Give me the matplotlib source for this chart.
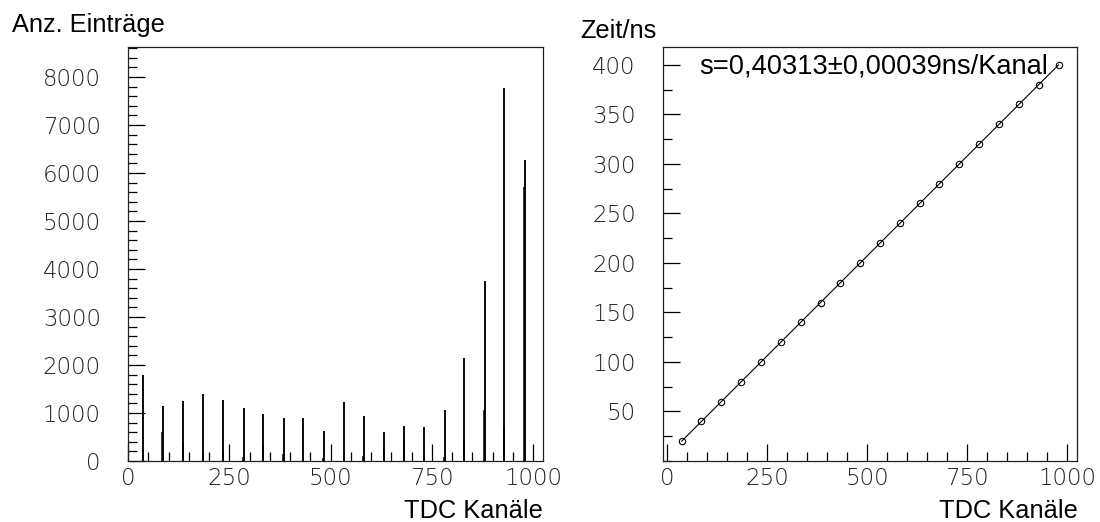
import numpy as np
import matplotlib
matplotlib.use("Agg")
import matplotlib.pyplot as plt
from matplotlib import font_manager
from matplotlib.ticker import MultipleLocator, FixedLocator

# ---------------- data ----------------
# TDC calibration peaks: channel of main bin, counts of main bin and of the neighbouring bin (channel-1)
peak_channels = [37, 86, 136, 185, 235, 285, 334, 384, 433, 483,
                 533, 582, 632, 681, 731, 781, 830, 880, 929, 979]
peak_counts = [1790, 1148, 1240, 1390, 1280, 1108, 979, 898, 905, 626,
               1220, 944, 612, 737, 706, 1066, 2141, 3760, 7763, 6281]
side_counts = [236, 610, 389, 146, 215, 90, 320, 146, 40, 60,
               60, 110, 264, 444, 76, 90, 389, 1062, 667, 5700]

# calibration: delay time (ns) vs peak channel
calib_channels = peak_channels
calib_times = [20, 40, 60, 80, 100, 120, 140, 160, 180, 200,
               220, 240, 260, 280, 300, 320, 340, 360, 380, 400]

fit_text = "s=0,40313\u00b10,00039ns/Kanal"
left_ylabel = "Anz. Einträge"
right_ylabel = "Zeit/ns"
xlabel = "TDC Kanäle"
x_ticks = [0, 250, 500, 750, 1000]
left_yticks = [0, 1000, 2000, 3000, 4000, 5000, 6000, 7000, 8000]
right_yticks = [50, 100, 150, 200, 250, 300, 350, 400]

# ---------------- fonts ----------------
def light_family():
    cands = ["DejaVu Sans", "Lato", "Roboto", "Open Sans", "Inter", "Noto Sans"]
    for c in cands:
        for f in font_manager.fontManager.ttflist:
            if f.name == c and isinstance(f.weight, (int, float)) and f.weight <= 300:
                return c, f.weight
            if f.name.startswith(c) and ("Light" in f.name or "ExtraLight" in f.name):
                return f.name, "normal"
    return "DejaVu Sans", "normal"

tick_family, tick_weight = light_family()
label_font = dict(family=["Liberation Sans", "DejaVu Sans"], size=18.3)

W, H = 1100, 522
fig = plt.figure(figsize=(W / 100, H / 100), dpi=100)

def px_axes(x0, x1, ytop, ybot):
    return fig.add_axes([x0 / W, (H - ybot) / H, (x1 - x0) / W, (ybot - ytop) / H])

axL = px_axes(128, 543, 47, 461)
axR = px_axes(663, 1077, 47, 461)

def style(ax):
    for s in ax.spines.values():
        s.set_linewidth(0.9)
        s.set_color("#202020")
    ax.tick_params(which="both", direction="in", top=False, right=False,
                   color="black", width=0.9)
    ax.tick_params(which="major", length=12.3)
    ax.tick_params(which="minor", length=6.3)
    ax.tick_params(axis="y", which="major", pad=19.5)
    ax.tick_params(axis="x", which="major", pad=4.5)
    for lab in ax.get_xticklabels() + ax.get_yticklabels():
        lab.set_family(tick_family)
        lab.set_weight(tick_weight)
        lab.set_size(16.5)
        lab.set_color("#222222")

# ---------------- left: histogram ----------------
side_channels = [c - 1 for c in peak_channels]
axL.vlines(side_channels, 0, side_counts, color="black", lw=1.1)
axL.vlines(peak_channels, 0, peak_counts, color="black", lw=1.35)
axL.set_xlim(0, 1024)
axL.set_ylim(0, 8625)
axL.xaxis.set_major_locator(FixedLocator(x_ticks))
axL.xaxis.set_minor_locator(MultipleLocator(50))
axL.yaxis.set_major_locator(FixedLocator(left_yticks))
axL.yaxis.set_minor_locator(MultipleLocator(200))
axL.set_xticklabels([str(t) for t in x_ticks])
axL.set_yticklabels([str(t) for t in left_yticks])
style(axL)

# ---------------- right: calibration ----------------
slope, intercept = np.polyfit(calib_channels, calib_times, 1)
xf = np.array([min(calib_channels), max(calib_channels)])
axR.plot(xf, slope * xf + intercept, color="black", lw=0.8)
axR.plot(calib_channels, calib_times, linestyle="none", marker="o",
         markersize=4.6, markerfacecolor="none", markeredgecolor="black",
         markeredgewidth=0.8)
axR.set_xlim(-10, 1025)
axR.set_ylim(0, 418)
axR.xaxis.set_major_locator(FixedLocator(x_ticks))
axR.xaxis.set_minor_locator(MultipleLocator(50))
axR.yaxis.set_major_locator(FixedLocator(right_yticks))
axR.yaxis.set_minor_locator(MultipleLocator(25))
axR.set_xticklabels([str(t) for t in x_ticks])
axR.set_yticklabels([str(t) for t in right_yticks])
style(axR)
axR.text(0.087, 0.937, fit_text, transform=axR.transAxes, ha="left",
         va="baseline", fontsize=19.6, family=["Liberation Sans", "DejaVu Sans"],
         color="black")

# ---------------- axis titles ----------------
fig.text(12 / W, 1 - 32 / H, left_ylabel, ha="left", va="baseline", **label_font)
fig.text(580 / W, 1 - 38 / H, right_ylabel, ha="left", va="baseline", **label_font)
fig.text(543 / W, 1 - 518 / H, xlabel, ha="right", va="baseline", **label_font)
fig.text(1078 / W, 1 - 518 / H, xlabel, ha="right", va="baseline", **label_font)

fig.savefig("out.png", dpi=100, facecolor="white")
